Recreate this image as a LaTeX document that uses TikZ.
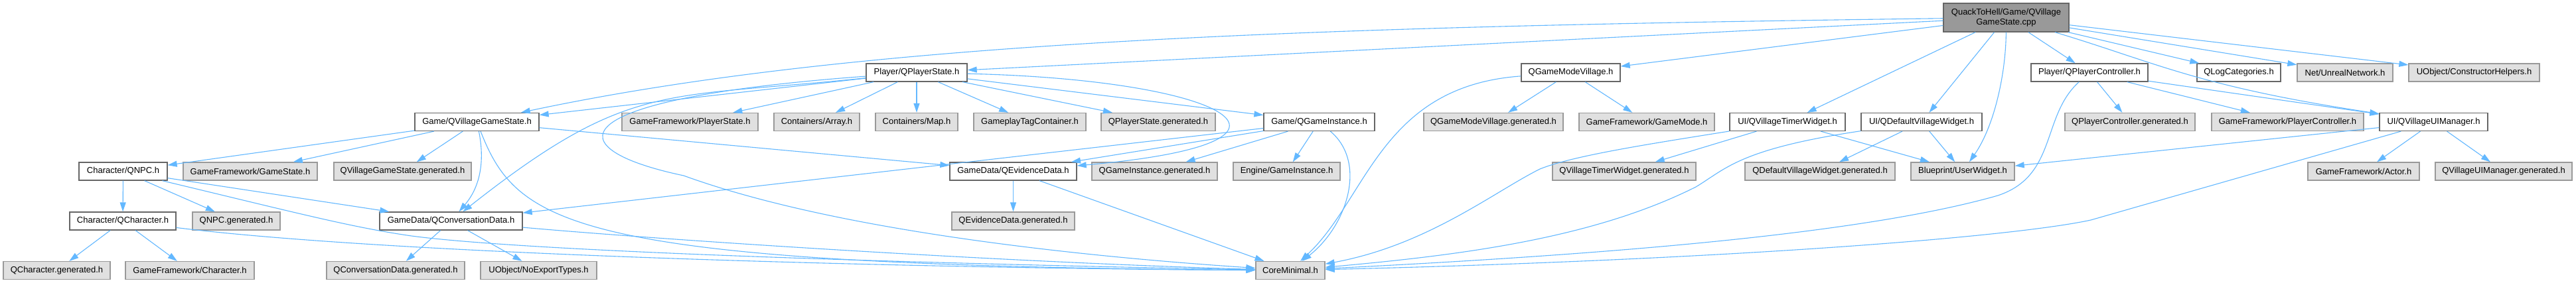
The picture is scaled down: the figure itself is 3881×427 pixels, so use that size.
\documentclass[tikz,border=0pt]{standalone}
\usepackage{fontspec}
\setmainfont{Liberation Sans}
\usetikzlibrary{arrows.meta}
\definecolor{depedge}{HTML}{63B8FF}
\definecolor{incborder}{HTML}{666666}
\definecolor{extborder}{HTML}{999999}
\definecolor{extfill}{HTML}{E0E0E0}
\definecolor{srcfill}{HTML}{999999}
\tikzset{
  incnode/.style = {draw=incborder, fill=white, line width=1.3pt, minimum height=27pt,
                    inner sep=2pt, text=black, font=\fontsize{13}{15}\selectfont},
  extnode/.style = {incnode, draw=extborder, fill=extfill},
  srcnode/.style = {incnode, draw=incborder, fill=srcfill, minimum height=43pt, align=center},
  dep/.style     = {draw=depedge, line width=1.1pt, -{Triangle[length=14pt,width=9pt]}},
}

\begin{document}
\begin{tikzpicture}[x=1pt, y=-1pt]
\useasboundingbox[fill=white] (0,0) rectangle (3881,427);

% source file
\node[srcnode, minimum width=189pt] (cpp) at (3022.5,26.5) {QuackToHell/Game/QVillage\\GameState.cpp};

% first level
\node[incnode, minimum width=152pt] (pstate) at (1381,109.5)   {Player/QPlayerState.h};
\node[incnode, minimum width=149pt] (gmode)  at (2366.5,109.5) {QGameModeVillage.h};
\node[incnode, minimum width=176pt] (pctrl)  at (3148,109.5)   {Player/QPlayerController.h};
\node[incnode, minimum width=126pt] (logcat) at (3373,109.5)   {QLogCategories.h};
\node[extnode, minimum width=144pt] (unet)   at (3533,109.5)   {Net/UnrealNetwork.h};
\node[extnode, minimum width=197pt] (chelp)  at (3727.5,109.5) {UObject/ConstructorHelpers.h};

% second level
\node[incnode, minimum width=187pt] (vgs)    at (718.5,184)  {Game/QVillageGameState.h};
\node[extnode, minimum width=205pt] (gfps)   at (1039.5,184) {GameFramework/PlayerState.h};
\node[extnode, minimum width=129pt] (carray) at (1230.5,184) {Containers/Array.h};
\node[extnode, minimum width=124pt] (cmap)   at (1381,184)   {Containers/Map.h};
\node[extnode, minimum width=169pt] (gtag)   at (1551.5,184) {GameplayTagContainer.h};
\node[extnode, minimum width=172pt] (psgen)  at (1745,184)   {QPlayerState.generated.h};
\node[incnode, minimum width=167pt] (ginst)  at (1987.5,184) {Game/QGameInstance.h};
\node[extnode, minimum width=210pt] (gmgen)  at (2250,184)   {QGameModeVillage.generated.h};
\node[extnode, minimum width=204pt] (gfgm)   at (2481,184)   {GameFramework/GameMode.h};
\node[incnode, minimum width=174pt] (vtimer) at (2693,184)   {UI/QVillageTimerWidget.h};
\node[incnode, minimum width=182pt] (dvw)    at (2895,184)   {UI/QDefaultVillageWidget.h};
\node[extnode, minimum width=196pt] (pcgen)  at (3209,184)   {QPlayerController.generated.h};
\node[extnode, minimum width=229pt] (gfpc)   at (3446.5,184) {GameFramework/PlayerController.h};
\node[incnode, minimum width=163pt] (uimgr)  at (3666.5,184) {UI/QVillageUIManager.h};

% third level
\node[incnode, minimum width=133pt] (npc)    at (185.5,258.5)  {Character/QNPC.h};
\node[extnode, minimum width=202pt] (gfgs)   at (377,258.5)    {GameFramework/GameState.h};
\node[extnode, minimum width=207pt] (vgsgen) at (606.5,258.5)  {QVillageGameState.generated.h};
\node[incnode, minimum width=191pt] (evid)   at (1526.5,258.5) {GameData/QEvidenceData.h};
\node[extnode, minimum width=189pt] (gigen)  at (1739.5,258.5) {QGameInstance.generated.h};
\node[extnode, minimum width=161pt] (egi)    at (1938.5,258.5) {Engine/GameInstance.h};
\node[extnode, minimum width=216pt] (vtgen)  at (2447,258.5)   {QVillageTimerWidget.generated.h};
\node[extnode, minimum width=226pt] (dvgen)  at (2742,258.5)   {QDefaultVillageWidget.generated.h};
\node[extnode, minimum width=156pt] (uw)     at (2957,258.5)   {Blueprint/UserWidget.h};
\node[extnode, minimum width=168pt] (actor)  at (3561,258.5)   {GameFramework/Actor.h};
\node[extnode, minimum width=206pt] (uigen)  at (3772,258.5)   {QVillageUIManager.generated.h};

% fourth level
\node[incnode, minimum width=160pt] (chr)    at (185,333.5)    {Character/QCharacter.h};
\node[extnode, minimum width=132pt] (npcgen) at (356,333.5)    {QNPC.generated.h};
\node[incnode, minimum width=215pt] (conv)   at (679.5,333.5)  {GameData/QConversationData.h};
\node[extnode, minimum width=185pt] (evgen)  at (1526.5,333.5) {QEvidenceData.generated.h};

% fifth level
\node[extnode, minimum width=161pt] (chrgen)  at (85.5,408)  {QCharacter.generated.h};
\node[extnode, minimum width=194pt] (gfchr)   at (286,408)   {GameFramework/Character.h};
\node[extnode, minimum width=208pt] (convgen) at (596,408)   {QConversationData.generated.h};
\node[extnode, minimum width=175pt] (noexp)   at (811.5,408) {UObject/NoExportTypes.h};
\node[extnode, minimum width=104pt] (core)    at (1944,408)  {CoreMinimal.h};

% includes of the source file
\draw[dep] (cpp) .. controls (2000,40) and (1300,60) .. (vgs);
\draw[dep] (cpp) -- (pstate);
\draw[dep] (cpp) -- (gmode);
\draw[dep] (cpp) -- (vtimer);
\draw[dep] (cpp) -- (dvw);
\draw[dep] (cpp) .. controls (3022,110) and (3005,190) .. (uw);
\draw[dep] (cpp) -- (pctrl);
\draw[dep] (cpp) -- (logcat);
\draw[dep] (cpp) -- (unet);
\draw[dep] (cpp) -- (chelp);
\draw[dep] (cpp) .. controls (3250,95) and (3310,130) .. (uimgr);

% Player/QPlayerState.h
\draw[dep] (pstate) -- (vgs);
\draw[dep] (pstate) .. controls (1000,150) and (950,120) .. (conv);
\draw[dep] (pstate) .. controls (830,150) and (840,225) .. (1030,265)
                    .. controls (1250,345) and (1600,385) .. (core);
\draw[dep] (pstate) -- (gfps);
\draw[dep] (pstate) -- (carray);
\draw[dep] (pstate) -- (cmap);
\draw[dep] (pstate) -- (gtag);
\draw[dep] (pstate) -- (psgen);
\draw[dep] (pstate) -- (ginst);
\draw[dep] (pstate) .. controls (1850,120) and (2020,215) .. (evid);

% Game/QVillageGameState.h
\draw[dep] (vgs) -- (npc);
\draw[dep] (vgs) -- (gfgs);
\draw[dep] (vgs) -- (vgsgen);
\draw[dep] (vgs) .. controls (730,240) and (725,280) .. (conv);
\draw[dep] (vgs) .. controls (780,340) and (860,400) .. (core);
\draw[dep] (vgs) -- (evid);

% Character/QNPC.h and Character/QCharacter.h
\draw[dep] (npc) -- (chr);
\draw[dep] (npc) -- (npcgen);
\draw[dep] (npc) .. controls (450,322) and (530,343) .. (620,356)
                 .. controls (800,380) and (1400,398) .. (core);
\draw[dep] (npc) -- (conv);
\draw[dep] (chr) -- (chrgen);
\draw[dep] (chr) -- (gfchr);
\draw[dep] (chr) .. controls (600,385) and (1400,405) .. (core);

% GameData headers
\draw[dep] (conv) -- (convgen);
\draw[dep] (conv) -- (noexp);
\draw[dep] (conv) .. controls (1000,362) and (1500,395) .. (core);
\draw[dep] (evid) -- (evgen);
\draw[dep] (evid) -- (core);

% Game/QGameInstance.h
\draw[dep] (ginst) -- (evid);
\draw[dep] (ginst) -- (gigen);
\draw[dep] (ginst) -- (egi);
\draw[dep] (ginst) -- (conv);
\draw[dep] (ginst) .. controls (2060,245) and (2030,340) .. (core);

% QGameModeVillage.h
\draw[dep] (gmode) -- (gmgen);
\draw[dep] (gmode) -- (gfgm);
\draw[dep] (gmode) .. controls (2080,130) and (2060,300) .. (core);

% UI widgets
\draw[dep] (vtimer) -- (vtgen);
\draw[dep] (vtimer) -- (uw);
\draw[dep] (vtimer) .. controls (2480,218) and (2370,235) .. (2320,255)
                    .. controls (2250,290) and (2150,370) .. (core);
\draw[dep] (dvw) -- (dvgen);
\draw[dep] (dvw) -- (uw);
\draw[dep] (dvw) .. controls (2620,225) and (2600,255) .. (2555,282)
                 .. controls (2400,360) and (2200,385) .. (core);

% Player/QPlayerController.h
\draw[dep] (pctrl) -- (pcgen);
\draw[dep] (pctrl) -- (gfpc);
\draw[dep] (pctrl) -- (uimgr);
\draw[dep] (pctrl) .. controls (3075,175) and (3100,265) .. (3010,295)
                   .. controls (2800,355) and (2400,385) .. (core);

% UI/QVillageUIManager.h
\draw[dep] (uimgr) -- (uw);
\draw[dep] (uimgr) -- (actor);
\draw[dep] (uimgr) -- (uigen);
\draw[dep] (uimgr) -- (3150,332) .. controls (3030,358) and (2600,392) .. (core);
\end{tikzpicture}
\end{document}
